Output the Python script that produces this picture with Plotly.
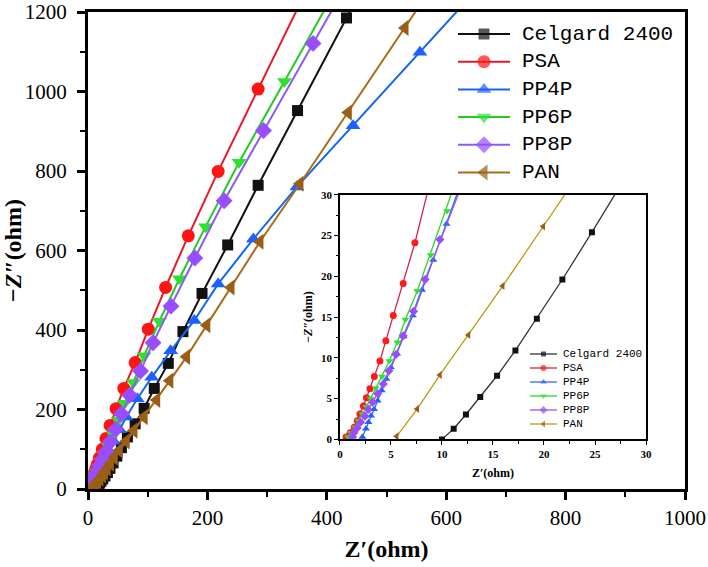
import plotly.graph_objects as go

# ---------------- data (Z' , -Z'') ----------------
names = ["Celgard 2400", "PSA", "PP4P", "PP6P", "PP8P", "PAN"]

celgard_x = [10, 11.15, 12.35, 13.75, 15.4, 17.2, 19.3, 21.8, 24.7, 28.5, 32.5, 36.8, 42, 48.3, 56, 66,
             79, 94, 111, 134.5, 159, 191, 234, 285, 351, 433, 537]
celgard_y = [0, 1.3, 3.05, 5.2, 7.8, 10.9, 14.8, 19.6, 25.4, 32.8, 41.4, 52, 65.6, 82.6, 104, 131,
             164, 203, 253, 316, 396, 492, 614, 764, 952, 1185, 1480]

psa_x = [0.6, 1.0, 1.4, 1.7, 1.96, 2.3, 2.6, 2.94, 3.37, 3.92, 4.5, 5.23, 6.2, 7.35, 8.6, 10.2, 12.4,
         15.2, 19, 24, 30, 37, 47, 60, 79, 101, 130, 168, 218, 285, 370]
psa_y = [0.3, 0.8, 1.5, 2.3, 3.1, 4.1, 5.1, 6.2, 7.7, 9.6, 12.1, 15.2, 19.1, 24.1, 30.4, 38.3, 48.2,
         61, 78, 100, 127, 160, 202, 253, 318, 402, 507, 637, 799, 1006, 1267]

pp4p_x = [2.2, 2.55, 2.8, 3.05, 3.35, 3.7, 4.1, 4.55, 5.0, 5.6, 6.25, 7.15, 8.05, 9.15, 10.45, 11.95,
          14.2, 17, 20.2, 24, 29, 35, 43, 53, 64, 82.6, 106.7, 138.5, 178, 218, 277, 350, 444, 556, 690]
pp4p_y = [0.3, 1.3, 2.1, 2.9, 3.7, 4.75, 6.0, 7.4, 8.8, 10.5, 12.6, 15.2, 18.3, 22.0, 26.4, 31.7,
          38, 46, 55, 66, 80, 97, 120, 149, 181, 227, 281, 347.5, 424, 516, 629, 760, 914, 1099, 1320]

pp6p_x = [0.8, 1.08, 1.47, 1.8, 2.2, 2.6, 3.0, 3.53, 4.12, 4.84, 5.62, 6.42, 7.58, 8.9, 10.5,
          12.6, 15.3, 18.5, 22.5, 27.5, 34, 42, 51, 61, 76, 94, 119.5, 153, 197, 253, 329, 424]
pp6p_y = [0.3, 0.8, 1.5, 2.3, 3.1, 4.0, 5.0, 6.3, 7.7, 9.6, 11.9, 14.7, 18.2, 22.6, 28.0,
          35, 44, 55, 69, 86, 108, 137, 173, 216, 268, 335, 422, 529, 660, 822, 1025, 1280]

pp8p_x = [1.24, 1.37, 1.7, 2.03, 2.45, 2.78, 3.2, 3.7, 4.25, 4.8, 5.49, 6.2, 7.22, 8.35, 9.8,
          11.55, 13.8, 16.6, 20, 24.5, 30, 37, 46, 56, 70, 88, 109, 139, 179, 228, 294, 377, 481]
pp8p_y = [0.3, 0.8, 1.4, 2.1, 2.85, 3.66, 4.55, 5.6, 6.8, 8.4, 10.4, 12.7, 15.7, 19.6, 24.5,
          30.5, 38, 47.5, 59.5, 75, 94, 118, 150, 189, 236, 297, 368, 460, 581, 725, 902, 1121, 1395]

pan_x = [5.56, 7.58, 9.8, 12.6, 15.95, 19.93, 24.2, 27.5, 32, 37.5, 44, 52.5, 64, 77, 94, 115, 137,
         165, 199, 239.5, 288, 355, 436, 531, 651]
pan_y = [0.37, 3.74, 7.9, 12.8, 18.8, 26.1, 34, 42, 52, 64, 79, 97, 120, 147, 181, 224, 272.5,
         332.5, 412, 507, 622, 768, 947, 1160, 1430]

main_ticks = [0, 200, 400, 600, 800, 1000, 1200]
inset_ticks = [0, 5, 10, 15, 20, 25, 30]

series_x = [celgard_x, psa_x, pp4p_x, pp6p_x, pp8p_x, pan_x]
series_y = [celgard_y, psa_y, pp4p_y, pp6p_y, pp8p_y, pan_y]

# ---------------- styles ----------------
symbols = ["square", "circle", "triangle-up", "triangle-down", "diamond", "triangle-left"]
main_line = ["#111111", "#e8182a", "#1466f2", "#22cc22", "#8a5cf0", "#a86c1a"]
main_mark = ["#111111", "#ff1414", "#1e60ff", "#30e030", "#9a4dff", "#9a5e16"]
main_size = [11, 13, 13, 13, 13, 14]
ins_line = ["#333333", "#d81f4a", "#2f6bf0", "#2ad42a", "#9955ee", "#b89c10"]
ins_mark = ["#111111", "#ff1a1a", "#1e60ff", "#30e030", "#9a4dff", "#9a5e16"]
ins_size = [6, 7, 7, 7, 7, 7]

W, H = 708, 567
ML, MR, MT, MB = 88, 23, 12, 78
serif = "Liberation Serif"
mono = "Liberation Mono"

fig = go.Figure()
for i, n in enumerate(names):
    fig.add_trace(go.Scatter(
        x=series_x[i], y=series_y[i], name=n, mode="lines+markers", showlegend=False,
        line=dict(color=main_line[i], width=2),
        marker=dict(symbol=symbols[i], color=main_mark[i], size=main_size[i], line=dict(width=0)),
        xaxis="x", yaxis="y"))
for i, n in enumerate(names):
    fig.add_trace(go.Scatter(
        x=series_x[i], y=series_y[i], name=n, mode="lines+markers", showlegend=False,
        line=dict(color=ins_line[i], width=1.3),
        marker=dict(symbol=symbols[i], color=ins_mark[i], size=ins_size[i], line=dict(width=0)),
        xaxis="x2", yaxis="y2"))

# ---------------- legends (pixel-coordinate overlay axes) ----------------
annotations = []
def add_legend(x0, x1, xt, y0, dy, lcolors, mcolors, msizes, lw, fsize):
    for i, n in enumerate(names):
        yy = y0 + i * dy
        fig.add_trace(go.Scatter(
            x=[x0, (x0 + x1) / 2, x1], y=[yy, yy, yy], mode="lines+markers", showlegend=False,
            hoverinfo="skip", line=dict(color=lcolors[i], width=lw),
            marker=dict(symbol=symbols[i], color=mcolors[i], size=[0, msizes[i], 0], line=dict(width=0)),
            xaxis="x3", yaxis="y3"))
        annotations.append(dict(x=xt, y=yy, xref="x3", yref="y3", text=n, showarrow=False,
                                xanchor="left", yanchor="middle",
                                font=dict(family=mono, size=fsize, color="black")))

add_legend(458, 510, 520, 34, 27.7, main_line, main_mark, main_size, 2, 21)
add_legend(530, 557, 561, 354, 14, ins_line, ins_mark, [s - 1 for s in ins_size], 1.3, 11)

main_axis = dict(
    showline=True, linecolor="black", linewidth=3, mirror=True, automargin=False,
    ticks="outside", ticklen=8, tickwidth=2.5, tickcolor="black", ticklabeloverflow="allow",
    showgrid=False, zeroline=False,
    tickfont=dict(family=serif, size=21, color="black"),
)
inset_axis = dict(
    showline=True, linecolor="black", linewidth=1.5, mirror=True, automargin=False,
    ticks="outside", ticklen=4, tickwidth=1.2, tickcolor="black", ticklabeloverflow="allow",
    minor=dict(dtick=2.5, ticks="outside", ticklen=2.5, tickwidth=1, tickcolor="black"),
    showgrid=False, zeroline=False, range=[0, 30], tickvals=inset_ticks,
    tickfont=dict(family=serif, size=11, color="black", weight="bold"),
)
fig.update_layout(
    width=W, height=H,
    margin=dict(l=ML, r=MR, t=MT, b=MB, autoexpand=False),
    paper_bgcolor="white", plot_bgcolor="rgba(0,0,0,0)",
    font=dict(family=serif, color="black"),
    showlegend=False,
    xaxis=dict(**main_axis, range=[0, 1000], tickvals=main_ticks[:6],
               minor=dict(dtick=100, ticks="outside", ticklen=5, tickwidth=2, tickcolor="black"),
               title=dict(text="<b>Z′(ohm)</b>", font=dict(family=serif, size=24, color="black"), standoff=11)),
    yaxis=dict(**main_axis, range=[0, 1200], tickvals=main_ticks, ticklabelstandoff=6,
               minor=dict(dtick=100, ticks="outside", ticklen=5, tickwidth=2, tickcolor="black"),
               title=dict(text="<b>−<i>Z″</i>(ohm)</b>", font=dict(family=serif, size=24, color="black"), standoff=4)),
    xaxis2=dict(**inset_axis, domain=[0.422, 0.9347], anchor="y2",
                title=dict(text="<b>Z′(ohm)</b>", font=dict(family=serif, size=12, color="black"), standoff=9)),
    yaxis2=dict(**inset_axis, domain=[0.104, 0.617], anchor="x2",
                title=dict(text="<b>−<i>Z″</i>(ohm)</b>", font=dict(family=serif, size=12, color="black"), standoff=6)),
    xaxis3=dict(domain=[0, 1], range=[ML, W - MR], visible=False, anchor="y3", overlaying="x"),
    yaxis3=dict(domain=[0, 1], range=[H - MB, MT], visible=False, anchor="x3", overlaying="y"),
    annotations=annotations,
)

fig.write_html("out.html", config={"displayModeBar": False},
               post_script="document.body.style.margin='0';")
